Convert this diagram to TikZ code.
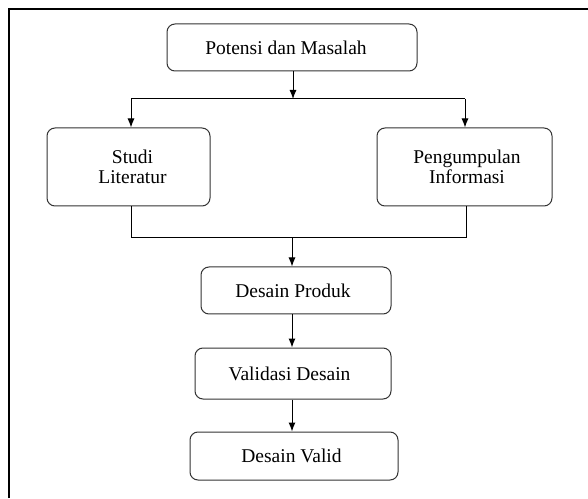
\documentclass[tikz,border=0pt]{standalone}
\usepackage{fontspec}
\setmainfont{Liberation Serif}
\usetikzlibrary{arrows.meta}
\begin{document}
\begin{tikzpicture}[x=1pt,y=1pt,
  box/.style={draw=black!80,line width=1pt,rounded corners=8pt,align=center,
    font=\fontsize{19.5}{19.5}\selectfont,inner sep=0pt},
  conn/.style={line width=1pt},
  arr/.style={conn,-{Latex[length=9pt,width=7pt]}}]
\useasboundingbox (0,0) rectangle (588,498);
\fill[white] (0,0) rectangle (588,498);
% frame (top and left visible)
\draw[line width=2.5pt] (9,0) -- (9,489) -- (588,489);
\node[box,minimum width=250,minimum height=47] (pm) at (292,450.5) {Potensi dan Masalah\hspace*{12pt}};
\node[box,minimum width=163,minimum height=78] (sl) at (128.5,331) {\hspace*{8pt}Studi\\\hspace*{8pt}Literatur};
\node[box,minimum width=175,minimum height=78] (pi) at (464.5,331) {\hspace*{5pt}Pengumpulan\\\hspace*{5pt}Informasi};
\node[box,minimum width=190,minimum height=47] (dp) at (296,207.5) {Desain Produk\hspace*{6pt}};
\node[box,minimum width=196,minimum height=51] (vd) at (293,124.5) {Validasi Desain\hspace*{7pt}};
\node[box,minimum width=208,minimum height=48] (dv) at (294,42) {Desain Valid\hspace*{5pt}};
\coordinate (j1) at (293,399);
\coordinate (jl) at (131,399);
\coordinate (jr) at (465,399);
\coordinate (b1) at (131,260);
\coordinate (b2) at (466,260);
\coordinate (jm) at (292,260);
\draw[arr] (pm.south -| j1) -- (j1);
\draw[conn] (jl) -- (jr);
\draw[arr] (jl) -- (jl |- sl.north);
\draw[arr] (jr) -- (jr |- pi.north);
\draw[conn] (b1 |- sl.south) -- (b1) -- (b2) -- (b2 |- pi.south);
\draw[arr] (jm) -- (jm |- dp.north);
\draw[arr] (dp.south -| jm) -- (vd.north -| jm);
\draw[arr] (vd.south -| jm) -- (dv.north -| jm);
\end{tikzpicture}
\end{document}
